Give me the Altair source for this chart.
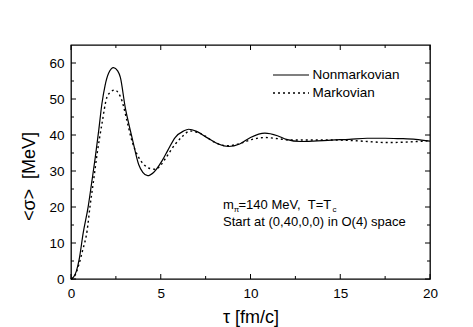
import altair as alt
import pandas as pd

# ---- data ----
tau_nonmarkov = [0, 0.15, 0.3, 0.45, 0.68, 0.96, 1.15, 1.35, 1.55, 1.72, 1.9, 2.1, 2.37, 2.6, 2.75,
                 3.02, 3.2, 3.4, 3.77, 4.0, 4.27, 4.6, 5.07, 5.4, 5.8, 6.27, 6.55, 7.0, 7.6, 8.2,
                 8.78, 9.4, 10.0, 10.8, 11.5, 12.0, 12.8, 13.5, 14.5, 15.5, 16.5, 17.5, 18.3, 19.2, 20]
sigma_nonmarkov = [0, 0.6, 2.2, 5.3, 12.8, 20.2, 26.7, 33.7, 41.5, 48.6, 53.8, 57.2, 58.7, 57.8, 56.0,
                   47.7, 43.5, 39.3, 31.8, 29.6, 28.7, 29.6, 32.8, 35.8, 39.3, 41.1, 41.6, 41.0, 39.2, 37.5,
                   36.8, 37.5, 39.3, 40.5, 39.8, 38.8, 38.2, 38.3, 38.6, 38.8, 39.1, 39.1, 39.0, 38.8, 38.3]

tau_markov = [0, 0.2, 0.45, 0.65, 0.9, 1.06, 1.24, 1.45, 1.72, 2.0, 2.2, 2.43, 2.65, 2.84, 3.12,
              3.4, 3.77, 4.1, 4.4, 4.7, 5.0, 5.25, 5.8, 6.2, 6.64, 7.3, 8.0, 8.7, 9.4, 10.1, 10.8,
              11.5, 12.2, 13.3, 14.5, 15.5, 16.5, 17.6, 18.5, 19.3, 20]
sigma_markov = [0, 0.8, 4.2, 8.0, 13.5, 20.2, 26.7, 34.6, 43.0, 50.5, 51.9, 52.5, 51.6, 49.5, 43.9,
                38.3, 33.8, 31.6, 30.7, 30.5, 31.6, 33.4, 37.4, 39.6, 41.1, 40.2, 38.0, 37.0, 37.6, 38.8, 39.3,
                39.0, 38.6, 38.6, 38.6, 38.5, 38.2, 37.9, 38.0, 38.2, 38.4]

x_major = [0, 5, 10, 15, 20]
x_minor = [2.5, 7.5, 12.5, 17.5]
y_major = [0, 10, 20, 30, 40, 50, 60]
y_minor = [5, 15, 25, 35, 45, 55]

legend_labels = ["Nonmarkovian", "Markovian"]
x_title = "τ [fm/c]"
y_title = "<σ>\u00a0\u00a0[MeV]"
note_m = "m"
note_pi = "π"
note_rest = "=140 MeV,\u00a0\u00a0T=T"
note_c = "c"
note_line2 = "Start at (0,40,0,0) in O(4) space"

# ---- layout ----
W, H = 359, 234
FONT = "Liberation Sans"
xs = alt.Scale(domain=[0, 20], nice=False, zero=False)
ys = alt.Scale(domain=[0, 65], nice=False, zero=False)
x_axis = alt.Axis(values=x_major, title=x_title, labelPadding=7,
                  titleX=W / 2, titleY=38, titleBaseline="middle", titleAlign="center")
y_axis = alt.Axis(values=y_major, title=y_title, labelPadding=7,
                  titleX=-42, titleY=131, titleBaseline="middle", titleAlign="center")

df_nm = pd.DataFrame({"tau": tau_nonmarkov, "sigma": sigma_nonmarkov})
df_m = pd.DataFrame({"tau": tau_markov, "sigma": sigma_markov})

nm = alt.Chart(df_nm).mark_line(color="black", strokeWidth=1.2, interpolate="monotone").encode(
    x=alt.X("tau:Q", scale=xs, axis=x_axis),
    y=alt.Y("sigma:Q", scale=ys, axis=y_axis),
)
mk = alt.Chart(df_m).mark_line(color="black", strokeWidth=1.4, strokeDash=[2, 3],
                               interpolate="monotone").encode(
    x=alt.X("tau:Q", scale=xs, axis=x_axis),
    y=alt.Y("sigma:Q", scale=ys, axis=y_axis),
)


def xticks(vals, length, top):
    y0 = 0 if top else H
    y1 = length if top else H - length
    return alt.Chart(pd.DataFrame({"tau": vals})).mark_rule(color="black", strokeWidth=1).encode(
        x=alt.X("tau:Q", scale=xs, axis=x_axis), y=alt.value(y0), y2=alt.value(y1))


def yticks(vals, length, right):
    x0 = W if right else 0
    x1 = W - length if right else length
    return alt.Chart(pd.DataFrame({"sigma": vals})).mark_rule(color="black", strokeWidth=1).encode(
        y=alt.Y("sigma:Q", scale=ys, axis=y_axis), x=alt.value(x0), x2=alt.value(x1))


ticks = [xticks(x_major, 5, False), xticks(x_minor, 3, False),
         xticks(x_major, 5, True), xticks(x_minor, 3, True),
         yticks(y_major, 5, False), yticks(y_minor, 3, False),
         yticks(y_major, 5, True), yticks(y_minor, 3, True)]

# legend (drawn inside the plot)
leg_solid = alt.Chart(pd.DataFrame({"s": [legend_labels[0]]})).mark_rule(
    color="black", strokeWidth=1.2).encode(x=alt.value(202), x2=alt.value(238), y=alt.value(30))
leg_dot = alt.Chart(pd.DataFrame({"s": [legend_labels[1]]})).mark_rule(
    color="black", strokeWidth=1.4, strokeDash=[2, 3]).encode(x=alt.value(202), x2=alt.value(238),
                                                              y=alt.value(48))
leg_text = [
    alt.Chart(pd.DataFrame({"s": [legend_labels[i]]})).mark_text(
        font=FONT, fontSize=13.5, align="left", baseline="middle", color="black").encode(
        x=alt.value(241.5), y=alt.value(yy), text="s:N")
    for i, yy in enumerate([30, 48])
]


def txt(s, x, y, size):
    return alt.Chart(pd.DataFrame({"s": [s]})).mark_text(
        font=FONT, fontSize=size, align="left", baseline="alphabetic", color="black").encode(
        x=alt.value(x), y=alt.value(y), text="s:N")


notes = [txt(note_m, 152, 164, 13), txt(note_pi, 162.8, 167, 8), txt(note_rest, 167.5, 164, 13),
         txt(note_c, 261.5, 167, 8), txt(note_line2, 152, 181, 13)]

chart = alt.layer(nm, mk, *ticks, leg_solid, leg_dot, *leg_text, *notes).properties(
    width=W, height=H,
    autosize=alt.AutoSizeParams(type="none"),
    padding={"left": 63, "top": 37, "right": 35, "bottom": 50},
    background="white",
).configure_view(stroke="black", strokeWidth=1.3).configure_axis(
    grid=False, ticks=False, domain=False, labelFlush=False,
    labelFont=FONT, labelFontSize=13.5, labelColor="black",
    titleFont=FONT, titleFontSize=18, titleFontWeight="normal", titleColor="black",
)

chart.save("out.html", embed_options={"renderer": "svg", "actions": False})
